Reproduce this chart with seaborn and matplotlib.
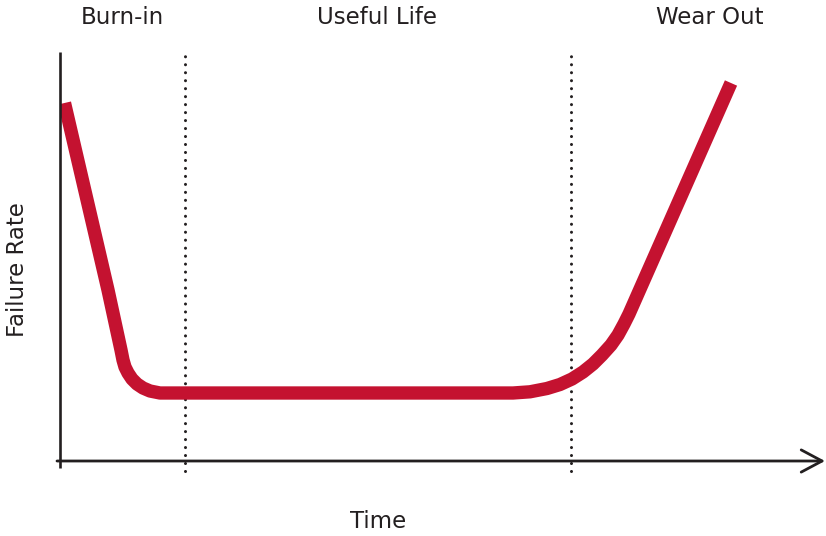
import numpy as np
import pandas as pd
import matplotlib
matplotlib.use("Agg")
import matplotlib.pyplot as plt
import seaborn as sns

sns.set_theme(style="white")
plt.rcParams['font.family'] = ['DejaVu Sans']

# bathtub curve (time / failure rate in arbitrary units)
time_pts = [4.5, 48, 61, 63, 65, 68, 72, 77, 83, 90, 100,
            453, 470, 487, 500, 512, 523, 533, 542, 551, 558, 564, 569,
            671]
rate_pts = [359, 172, 112, 102, 95, 89, 83, 78, 74, 71, 69,
            69, 70.2, 73.5, 77.5, 83, 90, 98, 107, 117, 127, 138, 148,
            379]

phase_names = ['Burn-in', 'Useful Life', 'Wear Out']
phase_centers = [62, 317, 650]
phase_bounds = [125, 511]

x_max, y_max = 766, 410
red = '#C41230'
ink = '#231F20'

W, H = 826, 536
fig = plt.figure(figsize=(W / 100, H / 100), dpi=100)
ax = fig.add_axes([60 / W, (H - 462) / H, 766 / W, 410 / H])
ax.set_xlim(0, x_max)
ax.set_ylim(0, y_max)
ax.axis('off')

df = pd.DataFrame({'time': time_pts, 'rate': rate_pts})
sns.lineplot(data=df, x='time', y='rate', sort=False, estimator=None,
             color=red, linewidth=9.6, ax=ax, solid_capstyle='butt',
             solid_joinstyle='round', zorder=3)

# phase boundaries
for b in phase_bounds:
    ax.plot([b, b], [-9, y_max], color=ink, linewidth=2.2,
            linestyle=(0, (0.01, 2.6)), dash_capstyle='round',
            clip_on=False, zorder=2)

# axes drawn by hand: plain y line, x arrow
ax.plot([0, 0], [-6, y_max], color=ink, linewidth=1.9, clip_on=False,
        solid_capstyle='butt', zorder=4)
ax.annotate('', xy=(x_max - 1, 1), xytext=(-3, 1), xycoords='data',
            arrowprops=dict(arrowstyle='->,head_length=0.75,head_width=0.4',
                            color=ink, lw=2.0, shrinkA=0, shrinkB=0,
                            mutation_scale=20),
            annotation_clip=False, zorder=4)

for name, c in zip(phase_names, phase_centers):
    fig.text((60 + c) / W, 1 - 18 / H, name, ha='center', va='center',
             fontsize=16.5, color=ink)

fig.text(18 / W, 1 - 270 / H, 'Failure Rate', rotation=90, ha='center',
         va='center', fontsize=16.5, color=ink)
fig.text(378 / W, 1 - 521 / H, 'Time', ha='center', va='center',
         fontsize=16.5, color=ink)

fig.savefig('out.png', dpi=100)
